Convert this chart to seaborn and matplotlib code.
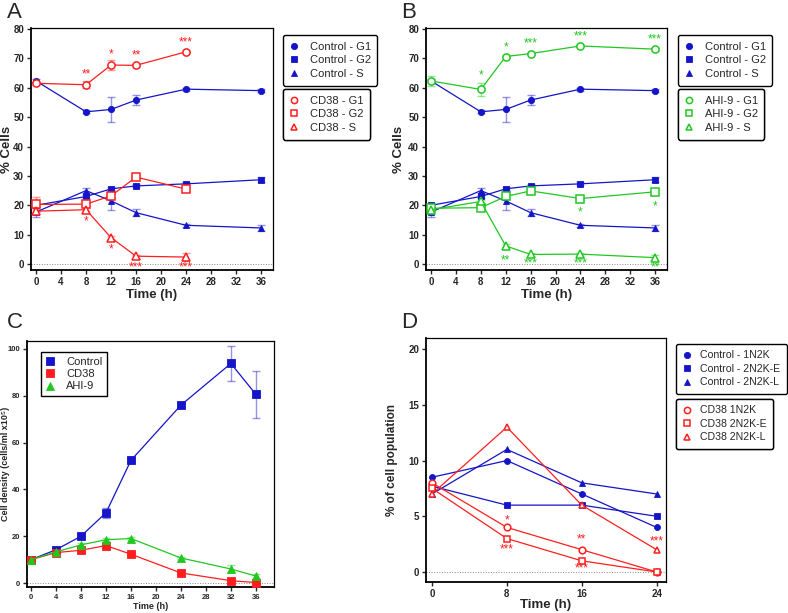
import matplotlib
matplotlib.use("Agg")
import matplotlib.pyplot as plt
from matplotlib.lines import Line2D
import seaborn as sns
import numpy as np
import pandas as pd

# ---------------- data ----------------
t_ab = [0, 8, 12, 16, 24, 36]
t_cd38 = [0, 8, 12, 16, 24]

ctrl_g1 = [62.3, 51.8, 52.6, 55.8, 59.5, 59.0]
ctrl_g1_err = [0.5, 0.5, 4.2, 1.8, 0.5, 0.6]
ctrl_g2 = [20.0, 23.0, 25.6, 26.6, 27.3, 28.7]
ctrl_g2_err = [0.5, 0.5, 0.5, 0.5, 0.5, 0.8]
ctrl_s = [17.7, 25.0, 21.5, 17.5, 13.2, 12.3]
ctrl_s_err = [1.8, 0.8, 3.0, 1.1, 0.6, 1.1]

cd38_g1 = [61.5, 61.0, 67.7, 67.6, 72.2]
cd38_g1_err = [0.6, 1.2, 1.6, 0.6, 0.5]
cd38_g2 = [20.3, 20.4, 23.2, 29.6, 25.5]
cd38_g2_err = [2.6, 0.6, 1.2, 0.8, 0.6]
cd38_s = [18.0, 18.5, 9.0, 2.7, 2.4]
cd38_s_err = [0.8, 0.6, 0.6, 0.5, 1.3]

ahi_g1 = [62.3, 59.4, 70.6, 71.6, 74.2, 73.1]
ahi_g1_err = [1.6, 2.3, 0.6, 0.5, 0.5, 0.5]
ahi_g2 = [19.0, 19.2, 23.0, 24.9, 22.3, 24.6]
ahi_g2_err = [1.8, 0.6, 0.8, 0.6, 0.5, 0.8]
ahi_s = [18.5, 21.3, 6.2, 3.3, 3.4, 2.2]
ahi_s_err = [1.0, 0.6, 0.5, 0.5, 0.5, 1.0]

t_c = [0, 4, 8, 12, 16, 24, 32, 36]
dens_ctrl = [10.0, 14.2, 20.0, 30.0, 52.4, 76.0, 93.8, 80.6]
dens_ctrl_err = [0.3, 0.6, 1.0, 2.2, 0.8, 0.6, 7.4, 9.9]
dens_cd38 = [10.0, 13.0, 14.0, 16.0, 12.3, 4.3, 1.0, 0.2]
dens_cd38_err = [0.3, 0.5, 0.6, 0.7, 0.6, 0.5, 0.5, 0.5]
dens_ahi = [10.0, 13.3, 16.3, 18.5, 19.0, 10.7, 6.0, 3.0]
dens_ahi_err = [0.3, 0.5, 1.0, 0.7, 0.5, 0.6, 1.5, 0.8]

t_d = [0, 8, 16, 24]
d_ctrl_1n2k = [8.5, 10, 7, 4]
d_ctrl_2n2ke = [7.7, 6, 6, 5]
d_ctrl_2n2kl = [7.0, 11, 8, 7]
d_cd38_1n2k = [8.0, 4, 2, 0]
d_cd38_2n2ke = [7.5, 3, 1, 0]
d_cd38_2n2kl = [7.0, 13, 6, 2]

stars_a = [(8, 64.5, '**'), (12, 71.4, '*'), (16, 71.0, '**'), (24, 75.5, '***'),
           (8, 14.4, '*'), (12, 5.0, '*'), (16, -1.0, '***'), (24, -1.0, '***')]
stars_b = [(8, 64.0, '*'), (12, 73.6, '*'), (16, 75.0, '***'), (24, 77.5, '***'), (36, 76.3, '***'),
           (24, 17.5, '*'), (36, 19.5, '*'),
           (12, 1.3, '**'), (16, 0.2, '***'), (24, 0.2, '***'), (36, -1.0, '**')]
stars_d = [(8, 4.6, '*'), (8, 2.0, '***'), (16, 2.9, '**'), (16, 0.3, '***'), (24, 2.7, '***')]

xt_ab = [0, 4, 8, 12, 16, 20, 24, 28, 32, 36]
yt_ab = [0, 10, 20, 30, 40, 50, 60, 70, 80]
yt_c = [0, 20, 40, 60, 80, 100]
yt_d = [0, 5, 10, 15, 20]

# ---------------- style ----------------
sns.set_style("ticks")
plt.rcParams['font.family'] = ['Liberation Sans', 'DejaVu Sans']
plt.rcParams['axes.linewidth'] = 1.0

BLUE = '#1414C8'
RED = '#FF1E1E'
GREEN = '#20C820'

fig = plt.figure(figsize=(7.88, 6.13), dpi=100)
W, H = 788, 613


def add_ax(l, r, t, b):
    return fig.add_axes([l / W, 1 - b / H, (r - l) / W, (b - t) / H])


def series(ax, x, y, color, marker, ms, filled, err=None, lw=0.9):
    df = pd.DataFrame({'x': x, 'y': y})
    if err is not None:
        ax.errorbar(x, y, yerr=err, fmt='none', ecolor=color, alpha=0.45,
                    elinewidth=1.0, capsize=3, capthick=1.0, zorder=2)
    sns.lineplot(data=df, x='x', y='y', ax=ax, color=color, marker=marker,
                 markersize=ms, markerfacecolor=(color if filled else 'white'),
                 markeredgecolor=color, markeredgewidth=(0.6 if filled else 1.1),
                 linewidth=lw, zorder=3, legend=False)


def style_ax(ax, xlim, ylim, xt, yt, tsize=7.0):
    ax.set_xlim(*xlim)
    ax.set_ylim(*ylim)
    ax.set_xticks(xt)
    ax.set_yticks(yt)
    ax.tick_params(direction='out', length=3, width=1.0, labelsize=tsize, pad=2)
    for lab in ax.get_xticklabels() + ax.get_yticklabels():
        lab.set_fontweight('bold')
    for s in ax.spines.values():
        s.set_visible(True)
        s.set_color('black')
    ax.spines['left'].set_linewidth(1.3)
    ax.spines['bottom'].set_linewidth(1.3)
    ax.spines['top'].set_linewidth(0.9)
    ax.spines['right'].set_linewidth(0.9)
    ax.axhline(0, color='#888888', ls=':', lw=0.7, zorder=1)


def leg(ax, handles, labels, x0, y0, size=8.0, fancy=True, tpad=1.0):
    lg = ax.legend(handles, labels, loc='upper left',
                   bbox_to_anchor=(x0 / W, 1 - y0 / H), bbox_transform=fig.transFigure,
                   frameon=True, fancybox=fancy, edgecolor='black', framealpha=1,
                   fontsize=size, handlelength=0.8, handletextpad=tpad,
                   labelspacing=0.33, borderpad=0.6, borderaxespad=0)
    lg.get_frame().set_linewidth(1.0)
    ax.add_artist(lg)
    return lg


def mh(color, marker, filled, ms=4.5):
    return Line2D([], [], ls='none', marker=marker, color=color, markersize=ms,
                  markerfacecolor=(color if filled else 'white'), markeredgecolor=color,
                  markeredgewidth=(0.6 if filled else 1.1))


def stars(ax, items, color):
    for x, y, s in items:
        ax.text(x, y, s, color=color, fontsize=8.5, ha='center', va='center', zorder=5)

# ---------------- Panel A ----------------
axA = add_ax(31, 273, 28, 270)
series(axA, t_ab, ctrl_g1, BLUE, 'o', 4.5, True, ctrl_g1_err)
series(axA, t_ab, ctrl_g2, BLUE, 's', 4.5, True, ctrl_g2_err)
series(axA, t_ab, ctrl_s, BLUE, '^', 4.7, True, ctrl_s_err)
series(axA, t_cd38, cd38_g1, RED, 'o', 5.2, False, cd38_g1_err)
series(axA, t_cd38, cd38_g2, RED, 's', 5.2, False, cd38_g2_err)
series(axA, t_cd38, cd38_s, RED, '^', 5.2, False, cd38_s_err)
style_ax(axA, (-0.8, 37.9), (-2.0, 80.3), xt_ab, yt_ab)
stars(axA, stars_a, RED)
axA.set_xlabel('Time (h)', fontsize=9.5, fontweight='bold')
axA.set_ylabel('% Cells', fontsize=9.5, fontweight='bold')
axA.xaxis.set_label_coords(0.5, -0.08)
axA.yaxis.set_label_coords(-0.074, 0.5)
leg(axA, [mh(BLUE, 'o', True), mh(BLUE, 's', True), mh(BLUE, '^', True)],
    ['Control - G1', 'Control - G2', 'Control - S'], 283, 35)
leg(axA, [mh(RED, 'o', False), mh(RED, 's', False), mh(RED, '^', False)],
    ['CD38 - G1', 'CD38 - G2', 'CD38 - S'], 283, 89)
fig.text(7 / W, 1 - 12 / H, 'A', fontsize=16, va='center', ha='left')

# ---------------- Panel B ----------------
axB = add_ax(426, 667, 28, 270)
series(axB, t_ab, ctrl_g1, BLUE, 'o', 4.5, True, ctrl_g1_err)
series(axB, t_ab, ctrl_g2, BLUE, 's', 4.5, True, ctrl_g2_err)
series(axB, t_ab, ctrl_s, BLUE, '^', 4.7, True, ctrl_s_err)
series(axB, t_ab, ahi_g1, GREEN, 'o', 5.2, False, ahi_g1_err)
series(axB, t_ab, ahi_g2, GREEN, 's', 5.2, False, ahi_g2_err)
series(axB, t_ab, ahi_s, GREEN, '^', 5.2, False, ahi_s_err)
style_ax(axB, (-0.8, 37.9), (-2.0, 80.3), xt_ab, yt_ab)
stars(axB, stars_b, GREEN)
axB.set_xlabel('Time (h)', fontsize=9.5, fontweight='bold')
axB.set_ylabel('% Cells', fontsize=9.5, fontweight='bold')
axB.xaxis.set_label_coords(0.5, -0.08)
axB.yaxis.set_label_coords(-0.087, 0.5)
leg(axB, [mh(BLUE, 'o', True), mh(BLUE, 's', True), mh(BLUE, '^', True)],
    ['Control - G1', 'Control - G2', 'Control - S'], 678, 35)
leg(axB, [mh(GREEN, 'o', False), mh(GREEN, 's', False), mh(GREEN, '^', False)],
    ['AHI-9 - G1', 'AHI-9 - G2', 'AHI-9 - S'], 678, 89)
fig.text(401 / W, 1 - 12 / H, 'B', fontsize=16, va='center', ha='left')

# ---------------- Panel C ----------------
axC = add_ax(27, 274, 341, 587)
series(axC, t_c, dens_ctrl, BLUE, 's', 5.5, True, dens_ctrl_err)
series(axC, t_c, dens_cd38, RED, 's', 5.5, True, dens_cd38_err)
series(axC, t_c, dens_ahi, GREEN, '^', 5.5, True, dens_ahi_err)
style_ax(axC, (-0.64, 38.9), (-1.7, 103.4), xt_ab, yt_c, tsize=5.5)
axC.set_xlabel('Time (h)', fontsize=6.5, fontweight='bold')
axC.set_ylabel('Cell density (cells/ml x10⁵)', fontsize=6.5, fontweight='bold')
axC.xaxis.set_label_coords(0.5, -0.062)
axC.yaxis.set_label_coords(-0.068, 0.5)
lgC = axC.legend([mh(BLUE, 's', True, 5.5), mh(RED, 's', True, 5.5), mh(GREEN, '^', True, 5.5)],
                 ['Control', 'CD38', 'AHI-9'], loc='upper left',
                 bbox_to_anchor=(41 / W, 1 - 352 / H), bbox_transform=fig.transFigure,
                 frameon=True, fancybox=False, edgecolor='black', framealpha=1,
                 fontsize=8.0, handlelength=0.8, handletextpad=1.0,
                 labelspacing=0.2, borderpad=0.45, borderaxespad=0)
lgC.get_frame().set_linewidth(1.0)
fig.text(7 / W, 1 - 322 / H, 'C', fontsize=16, va='center', ha='left')

# ---------------- Panel D ----------------
axD = add_ax(426, 666, 338, 582)
series(axD, t_d, d_ctrl_1n2k, BLUE, 'o', 4.3, True)
series(axD, t_d, d_ctrl_2n2ke, BLUE, 's', 4.3, True)
series(axD, t_d, d_ctrl_2n2kl, BLUE, '^', 4.5, True)
series(axD, t_d, d_cd38_1n2k, RED, 'o', 4.8, False)
series(axD, t_d, d_cd38_2n2ke, RED, 's', 4.8, False)
series(axD, t_d, d_cd38_2n2kl, RED, '^', 4.8, False)
style_ax(axD, (-0.64, 25.0), (-0.9, 21.0), t_d, yt_d)
stars(axD, stars_d, RED)
axD.set_xlabel('Time (h)', fontsize=9.5, fontweight='bold')
axD.set_ylabel('% of cell population', fontsize=8.5, fontweight='bold')
axD.xaxis.set_label_coords(0.5, -0.07)
axD.yaxis.set_label_coords(-0.117, 0.5)
leg(axD, [mh(BLUE, 'o', True), mh(BLUE, 's', True), mh(BLUE, '^', True)],
    ['Control - 1N2K', 'Control - 2N2K-E', 'Control - 2N2K-L'], 676, 344, size=7.6, tpad=0.9)
leg(axD, [mh(RED, 'o', False), mh(RED, 's', False), mh(RED, '^', False)],
    ['CD38 1N2K', 'CD38 2N2K-E', 'CD38 2N2K-L'], 676, 399, size=7.6, tpad=0.9)
fig.text(401 / W, 1 - 322 / H, 'D', fontsize=16, va='center', ha='left')

fig.savefig('out.png', dpi=100)
